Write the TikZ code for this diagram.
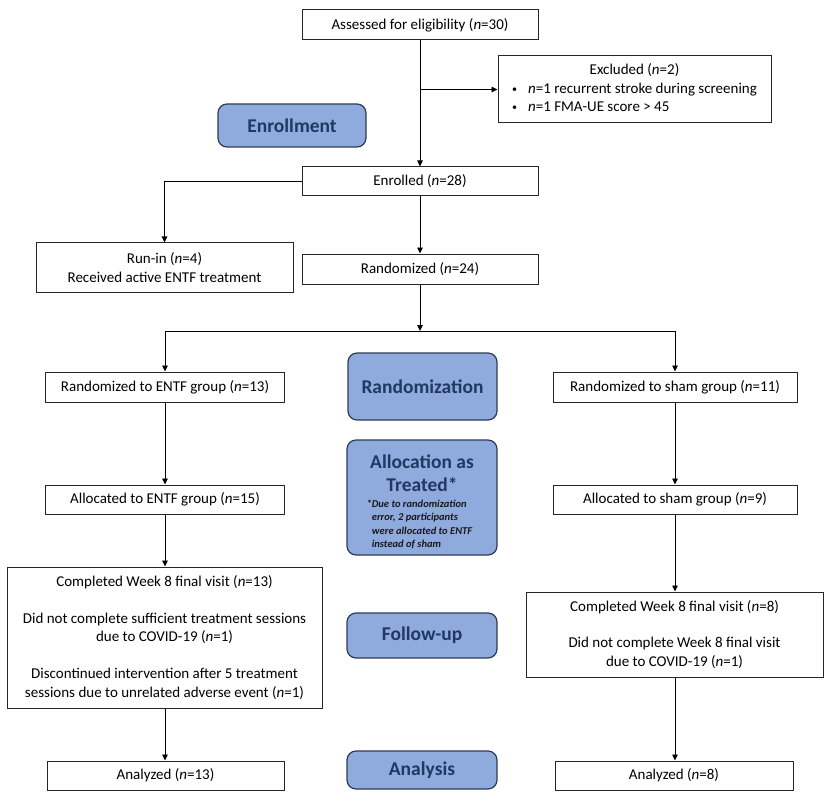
\documentclass[tikz,border=0pt]{standalone}
\usepackage{fontspec}
\setmainfont{Carlito}
\usetikzlibrary{arrows.meta}
\definecolor{hdfill}{HTML}{8FAADC}
\definecolor{hddraw}{HTML}{2E3B55}
\definecolor{hdtext}{HTML}{1F3864}
\newcommand{\smbul}{\raisebox{1pt}{\fontsize{10}{10}\selectfont\textbullet}}
\begin{document}
\begin{tikzpicture}[x=1pt,y=-1pt,
  box/.style={draw=black!85, line width=1pt, fill=white, inner sep=0pt, align=center,
    font=\fontsize{15}{18.5}\selectfont},
  hd/.style={draw=hddraw, line width=1.2pt, fill=hdfill, rounded corners=9pt, inner sep=0pt,
    align=center, text=hdtext, font=\fontsize{19.5}{23}\selectfont\bfseries},
  arr/.style={-{Triangle[length=6pt,width=5.5pt]}, line width=0.9pt},
  ln/.style={line width=0.9pt}]
\useasboundingbox (0,0) rectangle (829,810);

% main column
\node[box, minimum width=236pt, minimum height=30pt] (assess) at (420,25) {Assessed for eligibility (\textit{n}=30)};
\node[box, minimum width=273pt, minimum height=67pt] (excl) at (634.5,89.5)
  {\begin{tabular}{@{}c@{\hspace{11pt}}l@{}}\multicolumn{2}{c}{Excluded (\textit{n}=2)}\\
   \smbul & \textit{n}=1 recurrent stroke during screening\\
   \smbul & \textit{n}=1 FMA-UE score > 45\end{tabular}};
\node[hd, minimum width=148pt, minimum height=43pt] (enrollh) at (292,125.5) {Enrollment};
\node[box, minimum width=236pt, minimum height=29pt] (enrolled) at (420,181.5) {Enrolled (\textit{n}=28)};
\node[box, minimum width=257pt, minimum height=49pt] (runin) at (164.5,267.5) {Run-in (\textit{n}=4)\\Received active ENTF treatment};
\node[box, minimum width=236pt, minimum height=30pt] (rand) at (420,269) {Randomized (\textit{n}=24)};
\coordinate (br) at (420,331);

% ENTF arm
\node[box, minimum width=239pt, minimum height=30pt] (entf1) at (165,387) {Randomized to ENTF group (\textit{n}=13)};
\node[box, minimum width=239pt, minimum height=29pt] (entf2) at (165,499.5) {Allocated to ENTF group (\textit{n}=15)};
\node[box, minimum width=315pt, minimum height=141pt] (entf3) at (164.5,637.5)
  {Completed Week 8 final visit (\textit{n}=13)\\[18.5pt]
   Did not complete sufficient treatment sessions\\ due to COVID-19 (\textit{n}=1)\\[18.5pt]
   Discontinued intervention after 5 treatment\\ sessions due to unrelated adverse event (\textit{n}=1)};
\node[box, minimum width=237pt, minimum height=29pt] (entf4) at (165.5,775.5) {Analyzed (\textit{n}=13)};

% sham arm
\node[box, minimum width=244pt, minimum height=30pt] (sham1) at (675,387) {Randomized to sham group (\textit{n}=11)};
\node[box, minimum width=244pt, minimum height=29pt] (sham2) at (675,499.5) {Allocated to sham group (\textit{n}=9)};
\node[box, minimum width=297pt, minimum height=85pt] (sham3) at (674.5,634.5)
  {Completed Week 8 final visit (\textit{n}=8)\\[18pt]
   Did not complete Week 8 final visit\\ due to COVID-19 (\textit{n}=1)};
\node[box, minimum width=238pt, minimum height=29pt] (sham4) at (674,775.5) {Analyzed (\textit{n}=8)};

% stage headings
\node[hd, minimum width=149pt, minimum height=67pt] (randh) at (422.5,386.5) {Randomization};
\node[hd, minimum width=150pt, minimum height=115pt] (alloch) at (422,497.5)
  {\rule{0pt}{25pt}Allocation as\\Treated*\\[-7pt]
   {\color{black!90}\fontsize{10.5}{13.5}\selectfont\bfseries\itshape
   \begin{tabular}[t]{@{}l@{}}\llap{*}Due to randomization\\ error, 2 participants\\ were allocated to ENTF\\ instead of sham\end{tabular}}};
\node[hd, minimum width=150pt, minimum height=45pt] (fuh) at (422,635.5) {Follow-up};
\node[hd, minimum width=150pt, minimum height=38pt] (anh) at (422,770) {Analysis};

% connectors
\draw[arr] (assess.south) -- (enrolled.north);
\draw[arr] (assess.south |- excl.west) -- (excl.west);
\draw[arr] (enrolled.west) -| (runin.north);
\draw[arr] (enrolled.south) -- (rand.north);
\draw[arr] (rand.south) -- (br);
\draw[ln] (entf1.north |- br) -- (sham1.north |- br);
\draw[arr] (entf1.north |- br) -- (entf1.north);
\draw[arr] (sham1.north |- br) -- (sham1.north);
\draw[arr] (entf1.south) -- (entf1.south |- entf2.north);
\draw[arr] (entf2.south) -- (entf2.south |- entf3.north);
\draw[arr] (entf2.south |- entf3.south) -- (entf2.south |- entf4.north);
\draw[arr] (sham1.south) -- (sham1.south |- sham2.north);
\draw[arr] (sham2.south) -- (sham2.south |- sham3.north);
\draw[arr] (sham2.south |- sham3.south) -- (sham2.south |- sham4.north);
\end{tikzpicture}
\end{document}
